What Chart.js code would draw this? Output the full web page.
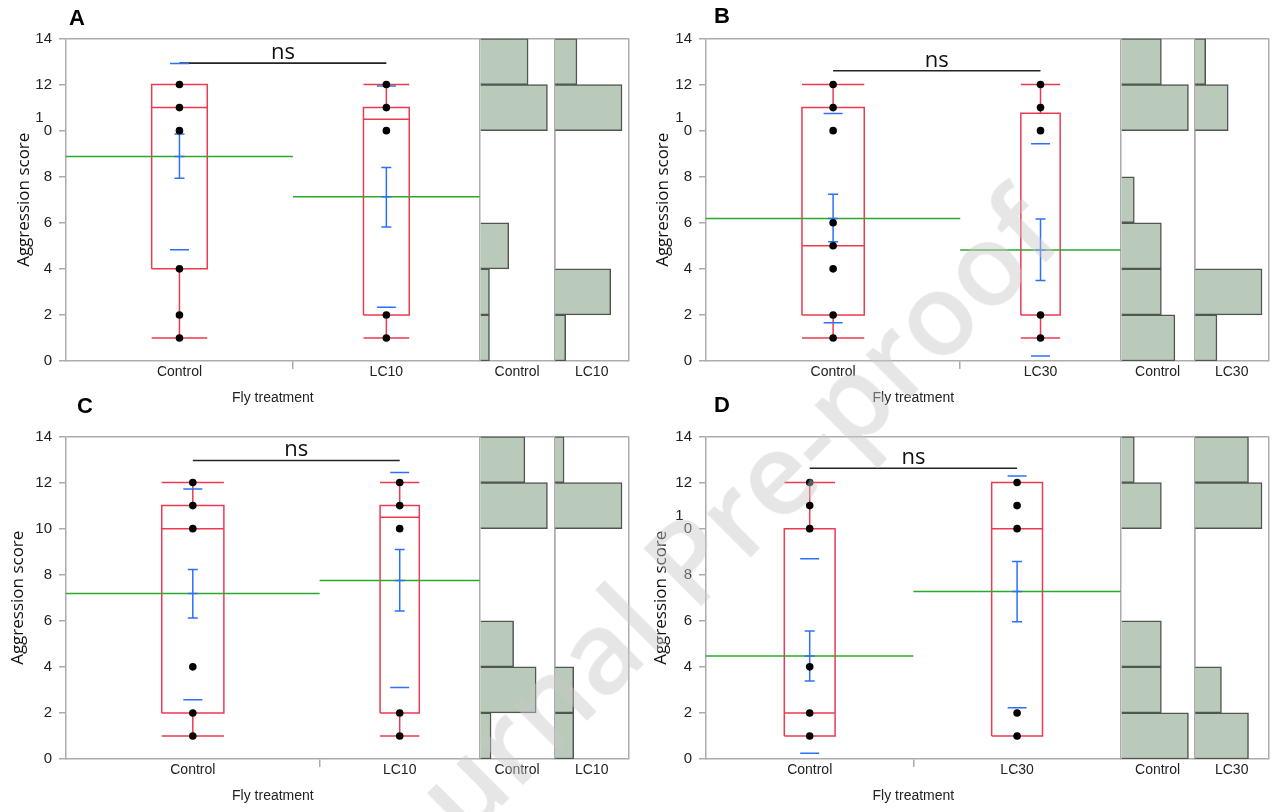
<!DOCTYPE html>
<html>
<head>
<meta charset="utf-8">
<script src="https://cdn.jsdelivr.net/npm/chart.js@4.4.1/dist/chart.umd.min.js"></script>
<style>
  html, body { margin:0; padding:0; background:#fff; width:1276px; height:812px; overflow:hidden; position:relative; }
  canvas.pan { position:absolute; }
  .letter { position:absolute; font:bold 22px 'Liberation Sans', Arial, sans-serif; color:#000; line-height:22px; }
  #wm { position:absolute; left:697px; top:548px; transform:translate(-50%,-50%) rotate(-45deg);
        font:600 115px 'Open Sans', sans-serif; color:rgba(200,200,200,0.45); white-space:nowrap; pointer-events:none; }
</style>
</head>
<body>
<canvas id="cA" class="pan" width="640" height="406" style="left:0px;top:0px"></canvas>
<canvas id="cB" class="pan" width="640" height="406" style="left:640px;top:0px"></canvas>
<canvas id="cC" class="pan" width="640" height="406" style="left:0px;top:398px"></canvas>
<canvas id="cD" class="pan" width="640" height="406" style="left:640px;top:398px"></canvas>
<div class="letter" style="left:69px;top:7px">A</div>
<div class="letter" style="left:714px;top:5px">B</div>
<div class="letter" style="left:77px;top:395px">C</div>
<div class="letter" style="left:714px;top:394px">D</div>
<div id="wm">Journal Pre-proof</div>
<script>
// ---------------- data ----------------
const groupsA = ['Control', 'LC10'];
const groupsB = ['Control', 'LC30'];
const groupsC = ['Control', 'LC10'];
const groupsD = ['Control', 'LC30'];
const yTicks = [0, 2, 4, 6, 8, 10, 12, 14];
const binCenters = [1, 3, 5, 7, 9, 11, 13];   // bins 0-2, 2-4, ... 12-14

// histogram counts per bin
const histA_Control = [1, 1, 3, 0, 0, 7, 5];
const histA_LC10    = [1, 5, 0, 0, 0, 6, 2];
const histB_Control = [4, 3, 3, 1, 0, 5, 3];
const histB_LC30    = [2, 6, 0, 0, 0, 3, 1];
const histC_Control = [1, 5, 3, 0, 0, 6, 4];
const histC_LC10    = [2, 2, 0, 0, 0, 7, 1];
const histD_Control = [5, 3, 3, 0, 0, 3, 1];
const histD_LC30    = [4, 2, 0, 0, 0, 5, 4];

// box stats: [min, q1, median, q3, max]
const boxA_Control = [1, 4, 11, 12, 12];
const boxA_LC10    = [1, 2, 10.5, 11, 12];
const boxB_Control = [1, 2, 5, 11, 12];
const boxB_LC30    = [1, 2, 2, 10.75, 12];
const boxC_Control = [1, 2, 10, 11, 12];
const boxC_LC10    = [1, 2, 10.5, 11, 12];
const boxD_Control = [1, 1, 2, 10, 12];
const boxD_LC30    = [1, 1, 10, 12, 12];

// observed scores (dots)
const dotsA_Control = [1, 2, 4, 10, 11, 12];
const dotsA_LC10    = [1, 2, 10, 11, 12];
const dotsB_Control = [1, 2, 4, 5, 6, 10, 11, 12];
const dotsB_LC30    = [1, 2, 10, 11, 12];
const dotsC_Control = [1, 2, 4, 10, 11, 12];
const dotsC_LC10    = [1, 2, 10, 11, 12];
const dotsD_Control = [1, 2, 4, 10, 11, 12];
const dotsD_LC30    = [1, 2, 10, 11, 12];

// means, mean +/- SE, mean +/- SD  [Control, treatment]
const meanA = [8.88, 7.13]; const seLoA = [7.93, 5.82]; const seHiA = [9.85, 8.40]; const sdLoA = [4.83, 2.33]; const sdHiA = [12.91, 11.94];
const meanB = [6.19, 4.82]; const seLoB = [5.18, 3.49]; const seHiB = [7.24, 6.16]; const sdLoB = [1.66, 0.22]; const sdHiB = [10.74, 9.43];
const meanC = [7.18, 7.75]; const seLoC = [6.12, 6.42]; const seHiC = [8.23, 9.09]; const sdLoC = [2.57, 3.10]; const sdHiC = [11.72, 12.44];
const meanD = [4.47, 7.27]; const seLoD = [3.39, 5.96]; const seHiD = [5.56, 8.57]; const sdLoD = [0.25, 2.22]; const sdHiD = [8.69, 12.29];

const nsText = 'ns';
const nsLevel = [12.93, 12.60, 12.96, 12.62];

// ---------------- styling ----------------
const FRAME = 'rgb(172,172,172)';
const RED = 'rgb(236,58,80)';
const GREEN = 'rgb(44,168,44)';
const BLUE = 'rgb(45,112,245)';
const HFILL = 'rgb(186,202,186)';
const HEDGE = 'rgb(80,86,80)';
const CLEAR = 'rgba(0,0,0,0)';
const SANS = "'Liberation Sans', Arial, sans-serif";
const BOXFRAC = 0.245;

const panels = [
  {cid:'cA', names:groupsA, hist:[histA_Control, histA_LC10], box:[boxA_Control, boxA_LC10], dots:[dotsA_Control, dotsA_LC10],
   mean:meanA, seLo:seLoA, seHi:seHiA, sdLo:sdLoA, sdHi:sdHiA, ns:nsLevel[0], mainW:416, histW:[75,75], broken:true, yPad:14},
  {cid:'cB', names:groupsB, hist:[histB_Control, histB_LC30], box:[boxB_Control, boxB_LC30], dots:[dotsB_Control, dotsB_LC30],
   mean:meanB, seLo:seLoB, seHi:seHiB, sdLo:sdLoB, sdHi:sdHiB, ns:nsLevel[1], mainW:417, histW:[74,75], broken:true, yPad:13},
  {cid:'cC', names:groupsC, hist:[histC_Control, histC_LC10], box:[boxC_Control, boxC_LC10], dots:[dotsC_Control, dotsC_LC10],
   mean:meanC, seLo:seLoC, seHi:seHiC, sdLo:sdLoC, sdHi:sdHiC, ns:nsLevel[2], mainW:416, histW:[75,75], broken:false, yPad:8},
  {cid:'cD', names:groupsD, hist:[histD_Control, histD_LC30], box:[boxD_Control, boxD_LC30], dots:[dotsD_Control, dotsD_LC30],
   mean:meanD, seLo:seLoD, seHi:seHiD, sdLo:sdLoD, sdHi:sdHiD, ns:nsLevel[3], mainW:417, histW:[74,75], broken:true, yPad:11}
];

const sum = a => a.reduce((s, v) => s + v, 0);
const GAP = (x) => ({x: x, y: null});

const nsPlugin = {
  id: 'nsPlugin',
  afterDatasetsDraw(chart, args, opts) {
    const {ctx} = chart; const x = chart.scales.x, y = chart.scales.y;
    ctx.save();
    ctx.font = "22px 'Open Sans', sans-serif";
    ctx.fillStyle = '#111';
    ctx.textAlign = 'center';
    ctx.textBaseline = 'alphabetic';
    ctx.fillText(opts.text, x.getPixelForValue(opts.xv), y.getPixelForValue(opts.yv) - 4);
    ctx.restore();
  }
};

function buildPanel(p) {
  const n = [sum(p.hist[0]), sum(p.hist[1])];
  const N = n[0] + n[1];
  const c = [n[0] / 2, n[0] + n[1] / 2];
  const half = [n[0] * BOXFRAC / 2, n[1] * BOXFRAC / 2];
  const bands = [[0, n[0]], [n[0], N]];

  const boxData = [];
  for (let g = 0; g < 2; g++) {
    const [mn, q1, md, q3, mx] = p.box[g];
    const L = c[g] - half[g], R = c[g] + half[g];
    boxData.push({x:L,y:q1},{x:R,y:q1},{x:R,y:q3},{x:L,y:q3},{x:L,y:q1}, GAP(L));
    boxData.push({x:L,y:md},{x:R,y:md}, GAP(R));
    boxData.push({x:c[g],y:mn},{x:c[g],y:q1}, GAP(c[g]));
    boxData.push({x:c[g],y:q3},{x:c[g],y:mx}, GAP(c[g]));
    boxData.push({x:L,y:mn},{x:R,y:mn}, GAP(R));
    boxData.push({x:L,y:mx},{x:R,y:mx}, GAP(R));
  }
  const meanData = [];
  const seLine = [];
  const seCaps = [];
  const sdCaps = [];
  const dots = [];
  for (let g = 0; g < 2; g++) {
    meanData.push({x:bands[g][0], y:p.mean[g]}, {x:bands[g][1], y:p.mean[g]}, GAP(bands[g][1]));
    seLine.push({x:c[g], y:p.seLo[g]}, {x:c[g], y:p.seHi[g]}, GAP(c[g]));
    seCaps.push({x:c[g], y:p.seLo[g]}, {x:c[g], y:p.seHi[g]}, {x:c[g], y:p.mean[g]});
    sdCaps.push({x:c[g], y:p.sdLo[g]}, {x:c[g], y:p.sdHi[g]});
    p.dots[g].forEach(v => dots.push({x:c[g], y:v}));
  }
  const histData = p.hist.map(h => h.map((v, i) => ({x:v, y:binCenters[i]})).filter(d => d.x > 0));
  const hMax = p.hist.map((h, k) => Math.max(...h) * p.histW[k] / 68);

  const lineDS = (data, color, extra) => Object.assign({type:'line', data, borderColor:color, borderWidth:1.5,
      pointRadius:0, spanGaps:false, tension:0, fill:false, xAxisID:'x', yAxisID:'y'}, extra || {});

  const datasets = [
    {type:'line', data:dots, showLine:false, pointRadius:3.8, pointBackgroundColor:'#000', pointBorderWidth:0, xAxisID:'x', yAxisID:'y'},
    {type:'line', data:seCaps, showLine:false, pointStyle:'line', pointRadius:5, pointBorderColor:BLUE, pointBorderWidth:1.5, xAxisID:'x', yAxisID:'y'},
    {type:'line', data:sdCaps, showLine:false, pointStyle:'line', pointRadius:9.5, pointBorderColor:BLUE, pointBorderWidth:1.5, xAxisID:'x', yAxisID:'y'},
    lineDS(seLine, BLUE),
    lineDS(meanData, GREEN),
    lineDS(boxData, RED),
    lineDS([{x:c[0], y:p.ns}, {x:c[1], y:p.ns}], 'rgb(35,35,35)', {borderWidth:1.6}),
    {type:'bar', indexAxis:'y', data:histData[0], xAxisID:'h1', yAxisID:'y', grouped:false, barPercentage:1, categoryPercentage:1,
     backgroundColor:HFILL, borderColor:HEDGE, borderWidth:1.5},
    {type:'bar', indexAxis:'y', data:histData[1], xAxisID:'h2', yAxisID:'y', grouped:false, barPercentage:1, categoryPercentage:1,
     backgroundColor:HFILL, borderColor:HEDGE, borderWidth:1.5}
  ];

  const xTickFont = {family:SANS, size:14};
  const histAxis = (k) => ({
    type:'linear', position:'bottom', stack:'bottomStack', stackWeight:p.histW[k], min:0, max:hMax[k], offset:false,
    afterBuildTicks: s => { s.ticks = [{value:0}, {value:hMax[k] / 2}, {value:hMax[k]}]; },
    afterFit: s => { s.height = 45; },
    ticks: {autoSkip:false, maxRotation:0, minRotation:0, padding:-5, font:xTickFont, color:'#222',
            callback: (v, i) => i === 1 ? p.names[k] : ''},
    grid: {offset:false, drawOnChartArea:true, drawTicks:true, tickLength:8, tickColor:CLEAR, lineWidth:1.5,
           color: ctx => ctx.index === 1 ? CLEAR : FRAME},
    border: {display:true, color:FRAME, width:1.5}
  });

  new Chart(document.getElementById(p.cid), {
    type:'line',
    data:{datasets},
    plugins:[nsPlugin],
    options:{
      responsive:false, animation:false, events:[], devicePixelRatio:1,
      layout:{padding:{top:38.5, right:8, left:0, bottom:0}},
      plugins:{legend:{display:false}, tooltip:{enabled:false}, nsPlugin:{text:nsText, xv:(c[0] + c[1]) / 2, yv:p.ns}},
      scales:{
        x:{type:'linear', position:'bottom', stack:'bottomStack', stackWeight:p.mainW, min:0, max:N, offset:false,
           afterBuildTicks: s => { s.ticks = [{value:c[0]}, {value:n[0]}, {value:c[1]}]; },
           afterFit: s => { s.height = 45; },
           ticks:{autoSkip:false, maxRotation:0, minRotation:0, padding:-5, font:xTickFont, color:'#222',
                  callback:(v, i) => i === 0 ? p.names[0] : (i === 2 ? p.names[1] : '')},
           grid:{offset:false, drawOnChartArea:false, drawTicks:true, tickLength:8, lineWidth:1.5,
                 tickColor: ctx => ctx.index === 1 ? FRAME : CLEAR},
           border:{display:true, color:FRAME, width:1.5},
           title:{display:true, text:'Fly treatment', font:{family:SANS, size:14}, color:'#222', padding:{top:0, bottom:-1}}
        },
        h1: histAxis(0),
        h2: histAxis(1),
        y:{type:'linear', position:'left', min:0, max:14, offset:false,
           afterBuildTicks: s => { s.ticks = yTicks.map(v => ({value:v})); },
           afterFit: s => { s.width = 66; },
           ticks:{autoSkip:false, padding:7, color:'#222', font:{family:SANS, size:15, lineHeight:'13px'},
                  callback: v => (v === 10 && p.broken) ? ['1  ', '0', ''] : String(v)},
           grid:{offset:false, drawOnChartArea:true, lineWidth:1.5, tickLength:7, tickColor:FRAME,
                 color: ctx => (ctx.tick && ctx.tick.value === 14) ? FRAME : CLEAR},
           border:{display:true, color:FRAME, width:1.5},
           title:{display:true, text:'Aggression score', font:{family:"'Open Sans', sans-serif", size:17}, color:'#111',
                  padding:{top:p.yPad, bottom:0}}
        }
      }
    }
  });
}

panels.forEach(buildPanel);
</script>
</body>
</html>
